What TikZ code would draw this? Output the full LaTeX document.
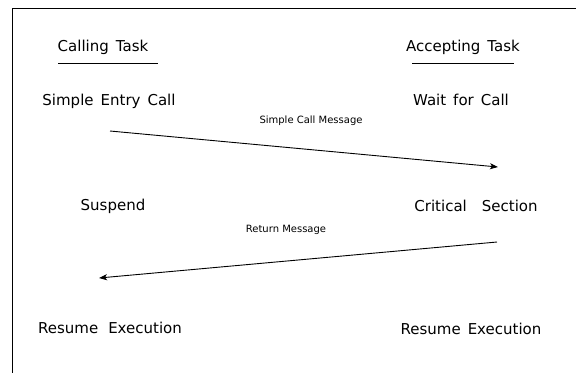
\documentclass[tikz,border=0pt]{standalone}
\usepackage{fontspec}
\setmainfont{DejaVu Sans}
\usetikzlibrary{arrows.meta}
\begin{document}
\begin{tikzpicture}[x=1pt,y=-1pt,
  lbl/.style={font=\fontsize{15}{18}\selectfont, inner sep=1pt},
  msg/.style={font=\fontsize{10}{12}\selectfont, inner sep=1pt},
  head/.style={lbl, inner sep=1pt},
  arr/.style={line width=0.9pt, -{Stealth[length=8pt,width=6pt,inset=2pt]}},
  frame/.style={line width=1pt}]
\useasboundingbox (0,0) rectangle (576,373);
\coordinate (tl) at (12,8);
\coordinate (tr) at (576,8);
\coordinate (bl) at (12,373);
\draw[frame] (tr) -- (tl) -- (bl);
\node[head] (ct) at (103,47) {Calling\hspace{7pt}Task};
\node[head] (at) at (463,47) {Accepting\hspace{7pt}Task};
\draw[line width=0.8pt] (58,63) -- (158,63);
\draw[line width=0.8pt] (412,63) -- (514,63);
\node[lbl] (sec) at (109,101) {Simple\hspace{7pt}Entry\hspace{7pt}Call};
\node[lbl] (wfc) at (461,100) {Wait\hspace{7pt}for\hspace{7pt}Call};
\node[lbl] (sus) at (113,206) {Suspend};
\node[lbl] (cs) at (476,206) {Critical\hspace{15pt}Section};
\node[lbl] (rel) at (110,328) {Resume\hspace{10pt}Execution};
\node[lbl] (rer) at (471,329) {Resume\hspace{7pt}Execution};
\coordinate (a1s) at (110,131);
\coordinate (a1e) at (498,167);
\coordinate (a2s) at (497,242);
\coordinate (a2e) at (99,278);
\draw[arr] (a1s) -- (a1e);
\draw[arr] (a2s) -- (a2e);
\node[msg] (m1) at (311,121) {Simple Call Message};
\node[msg] (m2) at (286,230) {Return Message};
\end{tikzpicture}
\end{document}
